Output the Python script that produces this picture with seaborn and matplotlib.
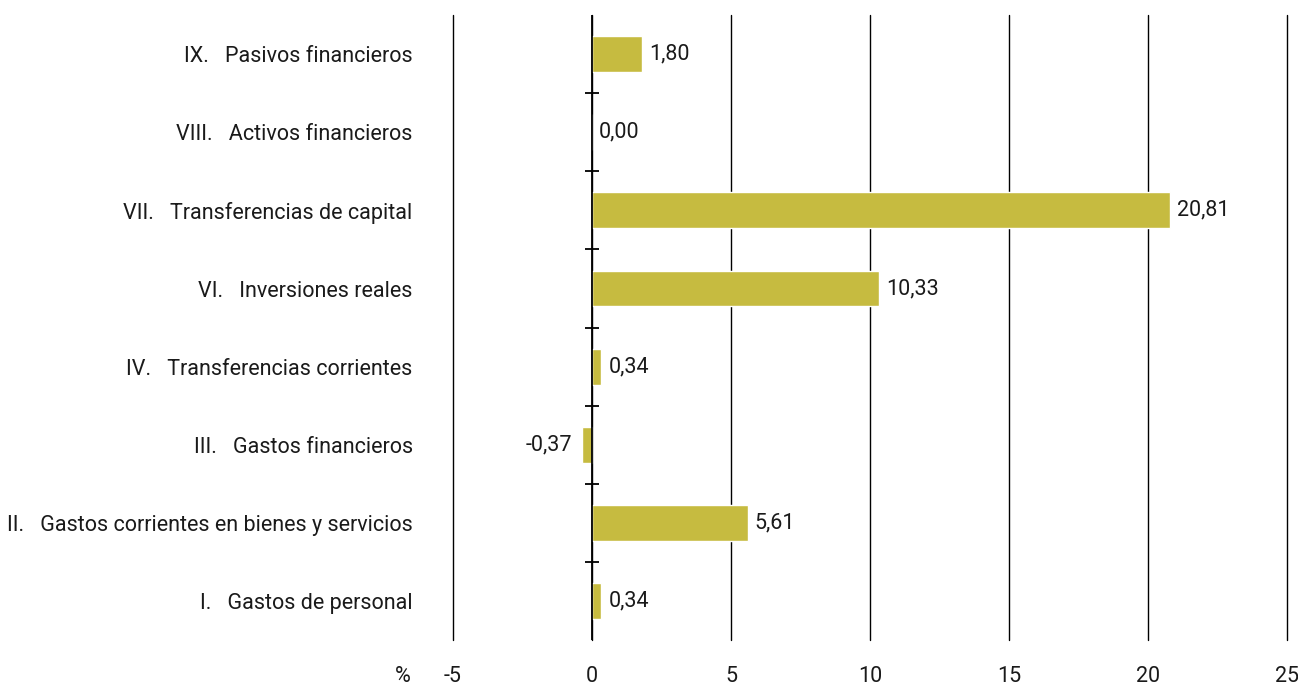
import matplotlib

matplotlib.use("Agg")
import matplotlib.pyplot as plt
import numpy as np
import pandas as pd
import seaborn as sns

# datos (de arriba a abajo)
numerals = ["IX.", "VIII.", "VII.", "VI.", "IV.", "III.", "II.", "I."]
names = [
    "Pasivos financieros",
    "Activos financieros",
    "Transferencias de capital",
    "Inversiones reales",
    "Transferencias corrientes",
    "Gastos financieros",
    "Gastos corrientes en bienes y servicios",
    "Gastos de personal",
]
values = [1.80, 0.00, 20.81, 10.33, 0.34, -0.37, 5.61, 0.34]
x_ticks = [-5, 0, 5, 10, 15, 20, 25]

BAR_COLOR = "#c6bb40"
FS = 15.5

sns.set_theme(style="white")
plt.rcParams["font.family"] = ["Roboto", "DejaVu Sans"]
plt.rcParams["text.color"] = "#1a1a1a"

labels = [f"{n}   {t}" for n, t in zip(numerals, names)]
df = pd.DataFrame({"label": labels, "value": values})

fig = plt.figure(figsize=(12.98, 6.86), dpi=100)
ax = fig.add_axes([0.349, 0.067, 0.6425, 0.911])

sns.barplot(data=df, y="label", x="value", orient="h", color=BAR_COLOR,
            saturation=1, width=0.46, ax=ax)

ax.set_xlim(x_ticks[0], x_ticks[-1])
ax.set_ylim(len(values) - 0.5, -0.5)
ax.set_xticks(x_ticks)
ax.set_xticklabels([str(t) for t in x_ticks], fontsize=FS)
ax.tick_params(axis="x", length=0, pad=19, labelcolor="#1a1a1a")
ax.tick_params(axis="y", length=0, pad=29, labelsize=FS, labelcolor="#1a1a1a")
ax.set_xlabel("")
ax.set_ylabel("")

for s in ax.spines.values():
    s.set_visible(False)

# líneas verticales de la rejilla
for t in x_ticks:
    ax.axvline(t, color="black", lw=1.0, zorder=0, clip_on=False)
ax.axvline(0, color="black", lw=1.3, zorder=3)

# marcas entre categorías sobre el eje cero
bounds = np.arange(len(values) - 1) + 0.5
ax.plot(np.zeros_like(bounds), bounds, ls="none", marker="_", ms=10,
        mew=1.3, color="black", zorder=4)

# etiquetas de valor
for i, v in enumerate(values):
    txt = f"{v:.2f}".replace(".", ",")
    if v < 0:
        ax.annotate(txt, (v, i), xytext=(-7, 0), textcoords="offset points",
                    ha="right", va="center", fontsize=FS)
    else:
        ax.annotate(txt, (v, i), xytext=(5, 0), textcoords="offset points",
                    ha="left", va="center", fontsize=FS)

ax.text(-0.06, -0.058, "%", transform=ax.transAxes, ha="center",
        va="center", fontsize=FS)

fig.savefig("out.png", dpi=100, facecolor="white")
